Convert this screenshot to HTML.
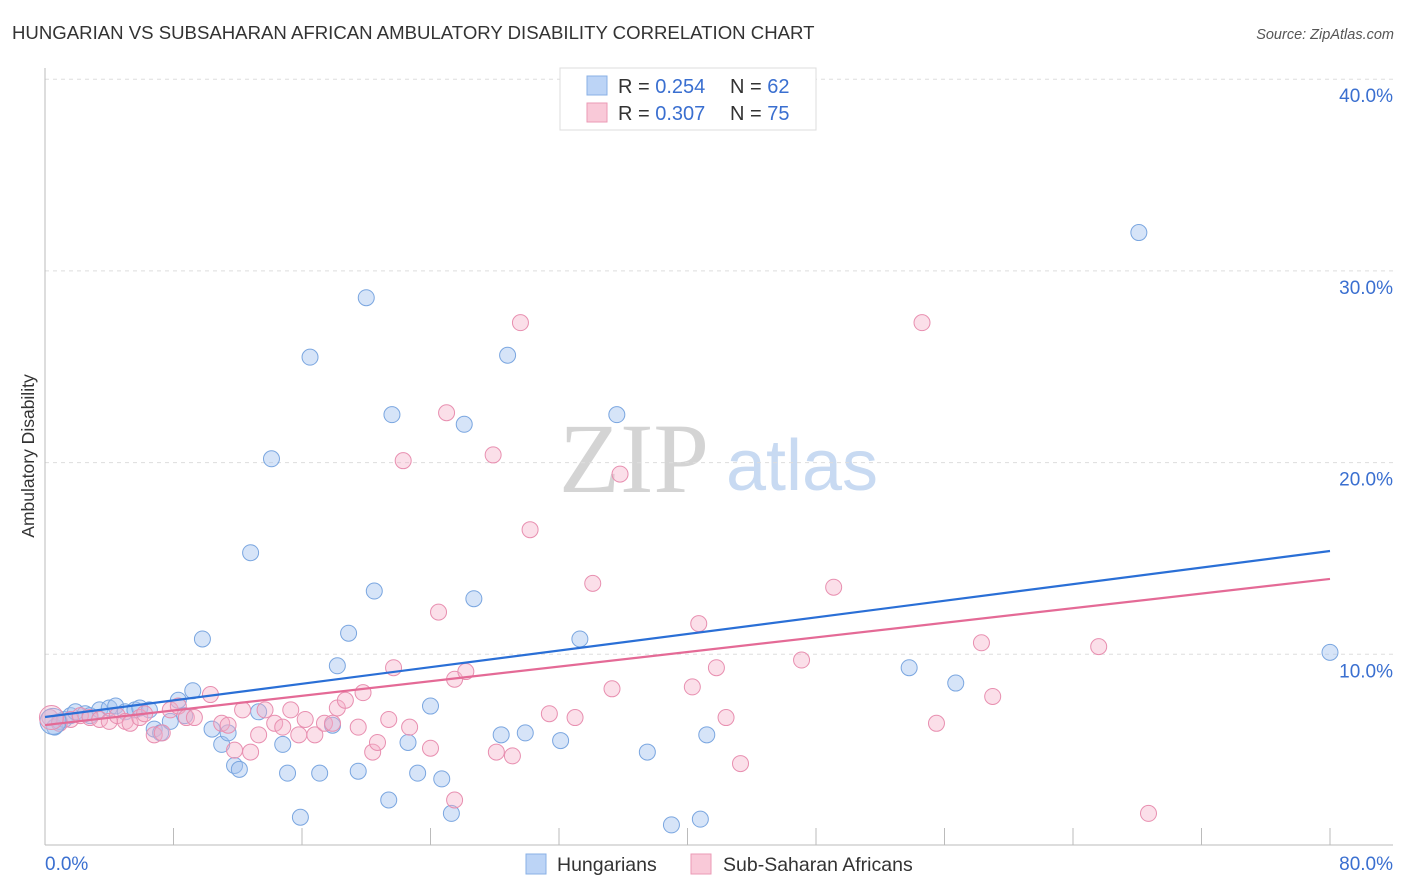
<!DOCTYPE html>
<html><head><meta charset="utf-8"><style>
body{margin:0;background:#fff;font-family:"Liberation Sans",sans-serif;}
svg{display:block}
</style></head><body>
<svg id="c" width="1406" height="892">
<text x="12" y="39" font-size="18.6" fill="#333">HUNGARIAN VS SUBSAHARAN AFRICAN AMBULATORY DISABILITY CORRELATION CHART</text>
<text x="1394" y="39" font-size="14.5" font-style="italic" fill="#555" text-anchor="end">Source: ZipAtlas.com</text>
<text x="634" y="492" font-size="100" font-family="Liberation Serif" fill="#d4d4d4" text-anchor="middle">ZIP</text>
<text x="802" y="490" font-size="72" fill="#c8daf2" text-anchor="middle">atlas</text>
<text transform="translate(34,456) rotate(-90)" font-size="17.5" fill="#333" text-anchor="middle">Ambulatory Disability</text>
<g id="grid"></g><g id="marks"></g>
<rect x="560" y="68" width="256" height="62" fill="#fff" stroke="#ddd"/>
<rect x="587" y="76" width="20" height="19" fill="#bcd4f6" stroke="#8ab0e6"/>
<rect x="587" y="103" width="20" height="19" fill="#f9c9d8" stroke="#eb9ab6"/>
<text x="618" y="93" font-size="20" fill="#333">R = <tspan fill="#3a6fd0">0.254</tspan></text>
<text x="730" y="93" font-size="20" fill="#333">N = <tspan fill="#3a6fd0">62</tspan></text>
<text x="618" y="120" font-size="20" fill="#333">R = <tspan fill="#3a6fd0">0.307</tspan></text>
<text x="730" y="120" font-size="20" fill="#333">N = <tspan fill="#3a6fd0">75</tspan></text>
<rect x="526" y="854" width="20" height="20" fill="#bcd4f6" stroke="#8ab0e6"/>
<text x="557" y="871" font-size="19.5" fill="#333">Hungarians</text>
<rect x="691" y="854" width="20" height="20" fill="#f9c9d8" stroke="#eb9ab6"/>
<text x="723" y="871" font-size="19.5" fill="#333">Sub-Saharan Africans</text>
</svg>
<script>
const yTicks=[10,20,30,40];
const yTickLabels=["10.0%","20.0%","30.0%","40.0%"];
const xTickLabels=["0.0%","80.0%"];
const blueX=[0.6,0.9,1.2,1.6,1.9,2.5,2.8,3.4,4.0,4.4,5.0,5.6,5.9,6.5,6.8,7.2,7.8,8.3,8.7,9.2,9.8,10.4,11.0,11.4,11.8,12.1,12.8,13.3,14.1,14.8,15.1,15.9,16.5,17.1,17.9,18.2,18.9,19.5,20.0,20.5,21.4,21.6,22.6,23.2,24.0,24.7,25.3,26.1,26.7,28.4,28.8,29.9,32.1,33.3,35.6,37.5,39.0,40.8,41.2,53.8,56.7,68.1,80.0];
const blueY=[6.2,6.5,6.6,6.8,7.0,6.9,6.8,7.1,7.2,7.3,7.0,7.1,7.2,7.1,6.1,5.9,6.5,7.6,6.8,8.1,10.8,6.1,5.3,5.9,4.2,4.0,15.3,7.0,20.2,5.3,3.8,1.5,25.5,3.8,6.3,9.4,11.1,3.9,28.6,13.3,2.4,22.5,5.4,3.8,7.3,3.5,1.7,22.0,12.9,5.8,25.6,5.9,5.5,10.8,22.5,4.9,1.1,1.4,5.8,9.3,8.5,32.0,10.1];
const pinkX=[0.3,0.9,1.6,2.2,2.8,3.4,4.0,4.5,5.0,5.3,5.9,6.2,6.8,7.3,7.8,8.3,8.8,9.3,10.3,11.0,11.4,11.8,12.3,12.8,13.3,13.7,14.3,14.8,15.3,15.8,16.2,16.8,17.4,17.9,18.2,18.7,19.5,19.8,20.4,20.7,21.4,21.7,22.3,22.7,24.0,24.5,25.0,25.5,25.5,26.2,27.9,28.1,29.1,29.6,30.2,31.4,33.0,34.1,35.3,35.8,40.3,40.7,41.8,42.4,43.3,47.1,49.1,54.6,55.5,58.3,59.0,65.6,68.7];
const pinkY=[6.7,6.4,6.6,6.8,6.7,6.6,6.5,6.8,6.5,6.4,6.7,6.9,5.8,5.9,7.1,7.3,6.7,6.7,7.9,6.4,6.3,5.0,7.1,4.9,5.8,7.1,6.4,6.2,7.1,5.8,6.6,5.8,6.4,6.4,7.2,7.6,6.2,8.0,4.9,5.4,6.6,9.3,20.1,6.2,5.1,12.2,22.6,8.7,2.4,9.1,20.4,4.9,4.7,27.3,16.5,6.9,6.7,13.7,8.2,19.4,8.3,11.6,9.3,6.7,4.3,9.7,13.5,27.3,6.4,10.6,7.8,10.4,1.7];
const blueLine=[6.73,15.39];
const pinkLine=[6.31,13.93];
const NS="http://www.w3.org/2000/svg";
const X=v=>45+v/80*1285, Y=v=>846-v*19.17;
function mk(t,a,p){const e=document.createElementNS(NS,t);for(const k in a)e.setAttribute(k,a[k]);p.appendChild(e);return e;}
const g=document.getElementById('grid'), m=document.getElementById('marks');
yTicks.forEach((t,i)=>{
 const l=mk('line',{x1:45,x2:1393,y1:Y(t),y2:Y(t),stroke:'#ddd','stroke-dasharray':'4,4'},g);
 
 
 const tx=mk('text',{x:1393,y:Y(t)+23,'font-size':19,fill:'#3a6fd0','text-anchor':'end'},g);
 tx.textContent=yTickLabels[i];
 
 
});
const ax=mk('line',{x1:45,x2:45,y1:68,y2:845,stroke:'#bbb'},g);


const bx=mk('line',{x1:45,x2:1393,y1:845,y2:845,stroke:'#bbb'},g);


for(let i=0;i<=10;i++){
 const t=mk('line',{x1:X(i*8),x2:X(i*8),y1:828,y2:845,stroke:'#bbb'},g);
 
 
}
[[0,'start',45],[80,'end',1393]].forEach((d,i)=>{
 const tx=mk('text',{x:d[2],y:870,'font-size':19,fill:'#3a6fd0','text-anchor':d[1]},g);
 tx.textContent=xTickLabels[i];
 
 
});
function pts(xs,ys,fill,stroke,name){
 xs.forEach((x,i)=>{
  const c=mk('circle',{cx:X(x),cy:Y(ys[i]),r:8,fill:fill,stroke:stroke,'stroke-width':1},m);
  
  
 });
}
pts(blueX,blueY,'rgba(164,196,240,0.45)','#7aa6e0','hungarian-point');
pts(pinkX,pinkY,'rgba(244,176,200,0.4)','#e88fb0','subsaharan-point');
const big1=mk('circle',{cx:X(0.5),cy:Y(6.5),r:13,fill:'rgba(164,196,240,0.4)',stroke:'#7aa6e0'},m);


const big2=mk('circle',{cx:X(0.4),cy:Y(6.7),r:12,fill:'rgba(244,176,200,0.35)',stroke:'#e88fb0'},m);


const l1=mk('line',{x1:X(0),y1:Y(blueLine[0]),x2:X(80),y2:Y(blueLine[1]),stroke:'#2a6fd6','stroke-width':2.2},m);


const l2=mk('line',{x1:X(0),y1:Y(pinkLine[0]),x2:X(80),y2:Y(pinkLine[1]),stroke:'#e46a96','stroke-width':2.2},m);


</script>
</body></html>
